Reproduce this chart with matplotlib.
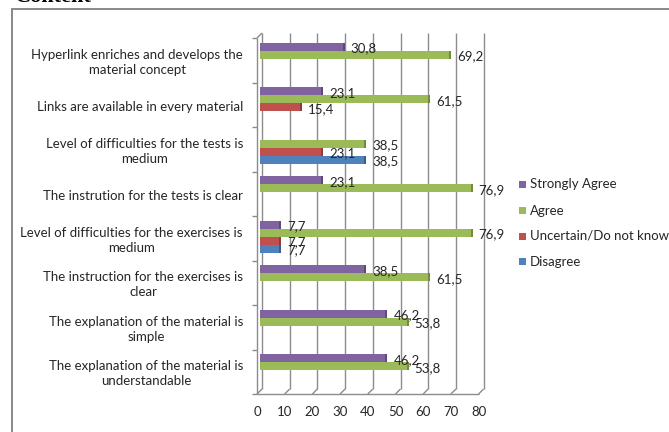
import matplotlib
matplotlib.use("Agg")
import matplotlib.pyplot as plt
from matplotlib.transforms import offset_copy
from matplotlib.patches import Rectangle

# ---- data -------------------------------------------------------------
categories = [
    "Hyperlink enriches and develops the\nmaterial concept",
    "Links are available in every material",
    "Level of difficulties for the tests is\nmedium",
    "The instrution for the tests is clear",
    "Level of difficulties for the exercises is\nmedium",
    "The instruction for the exercises is\nclear",
    "The explanation of the material is\nsimple",
    "The explanation of the material is\nunderstandable",
]
series_names = ["Strongly Agree", "Agree", "Uncertain/Do not know", "Disagree"]
strongly_agree = [30.8, 23.1, 0, 23.1, 7.7, 38.5, 46.2, 46.2]
agree = [69.2, 61.5, 38.5, 76.9, 76.9, 61.5, 53.8, 53.8]
uncertain = [0, 15.4, 23.1, 0, 7.7, 0, 0, 0]
disagree = [0, 0, 38.5, 0, 7.7, 0, 0, 0]
x_ticks = [0, 10, 20, 30, 40, 50, 60, 70, 80]

series_values = [strongly_agree, agree, uncertain, disagree]
face_colors = ["#8064A2", "#9BBB59", "#C0504D", "#4F81BD"]
side_colors = ["#5E4A7A", "#718A40", "#8E3A38", "#3A5F8C"]

FONT = "Lato"
FS = 9.5
TEXT_COLOR = "#262626"
GRID_COLOR = "#8C8C8C"

# ---- figure & axes ------------------------------------------------------
W, H = 669, 432
fig = plt.figure(figsize=(W / 100, H / 100), dpi=100)

x_left, x_right = 259.5, 481.1   # pixel extent of the bar plane
y_top, y_bottom = 35.5, 391.5
ax = fig.add_axes([x_left / W, 1 - y_bottom / H,
                   (x_right - x_left) / W, (y_bottom - y_top) / H])
n = len(categories)
ax.set_xlim(x_ticks[0], x_ticks[-1])
ax.set_ylim(n, 0)
ax.axis("off")

ux = (x_ticks[-1] - x_ticks[0]) / (x_right - x_left)   # data units per px (x)
uy = n / (y_bottom - y_top)                             # data units per px (y)
depth = 2.5                                             # half depth of the 3-D box, px

def front(x, y):
    return x - depth * ux, y + depth * uy

def back(x, y):
    return x + depth * ux, y - depth * uy

line_kw = dict(color=GRID_COLOR, lw=1.0, clip_on=False, solid_capstyle="butt")

# back wall gridlines
for v in x_ticks:
    (bx0, by0), (bx1, by1) = back(v, 0), back(v, n)
    ax.plot([bx0, bx1], [by0, by1], **line_kw, zorder=1)
    # floor connectors
    (fx, fy), (bx, by) = front(v, n), back(v, n)
    ax.plot([fx, bx], [fy, by], **line_kw, zorder=1)

# front floor edge
(fx0, fy0), (fx1, fy1) = front(x_ticks[0], n), front(x_ticks[-1], n)
ax.plot([fx0, fx1], [fy0, fy1], **line_kw, zorder=1)

# left wall: front edge, top connector, category tick marks
(lx0, ly0), (lx1, ly1) = front(0, 0), front(0, n)
ax.plot([lx0, lx1], [ly0, ly1], **line_kw, zorder=1)
(tx0, ty0), (tx1, ty1) = front(0, 0), back(0, 0)
ax.plot([tx0, tx1], [ty0, ty1], **line_kw, zorder=1)
for k in range(n + 1):
    fx, fy = front(0, k)
    ax.plot([fx - 5 * ux, fx], [fy, fy], **line_kw, zorder=1)

# ---- bars ---------------------------------------------------------------
bar_h = 8 * uy
group_shift = 1.0 * uy
cap_w = 2.0 * ux
label_tr = offset_copy(ax.transData, fig=fig, x=6, y=-1.5, units="dots")

for j, vals in enumerate(series_values):
    for i, v in enumerate(vals):
        if v <= 0:
            continue
        yc = i + 0.5 + group_shift + (j - 1.5) * bar_h
        ax.barh(yc, v, height=bar_h, left=0, color=face_colors[j],
                linewidth=0, zorder=3)
        ax.barh(yc, cap_w, height=bar_h, left=v - cap_w, color=side_colors[j],
                linewidth=0, zorder=4)
        ax.text(v, yc, f"{v:.1f}".replace(".", ","), transform=label_tr,
                ha="left", va="center", fontsize=FS, family=FONT,
                color=TEXT_COLOR, zorder=5)

# ---- category labels ------------------------------------------------------
cat_tr = offset_copy(ax.transData, fig=fig, x=-16.5, y=-4.5, units="dots")
for i, name in enumerate(categories):
    ax.text(0, i + 0.5, name, transform=cat_tr, ha="right", va="center",
            multialignment="center", fontsize=FS, family=FONT,
            color=TEXT_COLOR, linespacing=1.3)

# ---- value axis labels ----------------------------------------------------
tick_tr = offset_copy(ax.transData, fig=fig, x=-depth, y=-depth - 18, units="dots")
for v in x_ticks:
    ax.text(v, n, str(v), transform=tick_tr, ha="center", va="center",
            fontsize=FS, family=FONT, color=TEXT_COLOR)

# ---- legend -------------------------------------------------------------
legend_y = [184, 210.7, 236, 261.5]
for name, col, yc in zip(series_names, face_colors, legend_y):
    fig.add_artist(Rectangle((519 / W, 1 - (yc + 3.5) / H), 7 / W, 7 / H,
                             transform=fig.transFigure, facecolor=col,
                             edgecolor="none"))
    fig.text(530 / W, 1 - yc / H, name, ha="left", va="center", fontsize=FS,
             family=FONT, color=TEXT_COLOR)

# ---- chart frame & heading ----------------------------------------------
fig.add_artist(Rectangle((12 / W, -0.1), 2.0, 1.1 - 9 / H, fill=False,
                         edgecolor="#808080", lw=1.3,
                         transform=fig.transFigure))
fig.text(15 / W, 1 - 2.5 / H, "Content", ha="left", va="baseline",
         fontsize=16, weight="bold", family="Liberation Serif", color="black")

fig.savefig("out.png", dpi=100)
